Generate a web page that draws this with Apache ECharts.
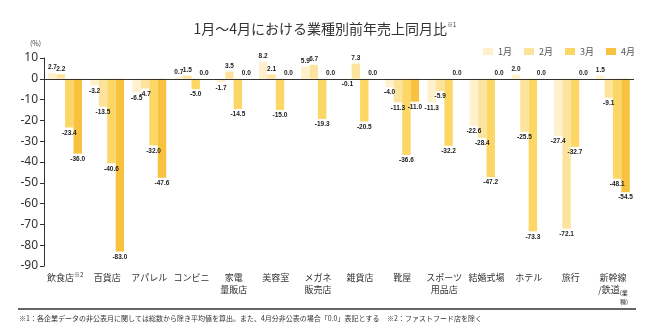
<!DOCTYPE html>
<html><head><meta charset="utf-8">
<script src="https://cdn.jsdelivr.net/npm/echarts@6/dist/echarts.min.js"></script>
<style>html,body{margin:0;padding:0;background:#fff}#c{width:650px;height:328px}</style>
</head><body><div id="c"></div>
<script>
const categories = ['飲食店{sup|※2}','百貨店','アパレル','コンビニ','家電\n量販店','美容室','メガネ\n販売店','雑貨店','靴屋','スポーツ\n用品店','結婚式場','ホテル','旅行','新幹線\n/鉄道{sm|(業}\n{sm2|種)}'];
const seriesNames = ['1月','2月','3月','4月'];
const jan = [2.7,-3.2,-6.5,0.7,-1.7,8.2,5.9,-0.1,-4.0,-11.3,-22.6,2.0,-27.4,1.5];
const feb = [2.2,-13.5,-4.7,1.5,3.5,2.1,6.7,7.3,-11.3,-5.9,-28.4,-25.5,-72.1,-9.1];
const mar = [-23.4,-40.6,-32.0,-5.0,-14.5,-15.0,-19.3,-20.5,-36.6,-32.2,-47.2,-73.3,-32.7,-48.1];
const apr = [-36.0,-83.0,-47.6,0.0,0.0,0.0,0.0,0.0,-11.0,0.0,0.0,0.0,0.0,-54.5];
const colors = ['#FEF1CC','#FDE49E','#FCD766','#F8C13E'];
const yMin = -90, yMax = 10, yStep = 10;

const FONT = "'Noto Sans CJK JP','Noto Sans',sans-serif";
const all = [jan, feb, mar, apr];
const chart = echarts.init(document.getElementById('c'), null, {renderer:'canvas'});
const series = all.map((arr, i) => {
  const s = {
    name: seriesNames[i], type: 'bar',
    barGap: '0%', barCategoryGap: '20%',
    itemStyle: {color: colors[i]},
    label: {show: true, fontSize: 6.5, fontWeight: 'bold', color: '#222', distance: 2,
      fontFamily: "'Liberation Sans',sans-serif",
      formatter: p => p.value.toFixed(1)},
    data: arr.map(v => ({value: v, label: {position: v < 0 ? 'bottom' : 'top'}}))
  };
  if (i === 0) {
    s.markLine = {silent: true, symbol: 'none', label: {show: false},
      lineStyle: {color: '#333', width: 1, type: 'solid'}, data: [{yAxis: 0}]};
  }
  return s;
});
chart.setOption({
  animation: false,
  textStyle: {fontFamily: FONT},
  title: {
    text: '1月～4月における業種別前年売上同月比{sup|※1}',
    left: 'center', top: 17,
    textStyle: {fontSize: 14, fontWeight: 'normal', color: '#333', fontFamily: FONT,
      rich: {sup: {fontSize: 6, verticalAlign: 'top', lineHeight: 8, color: '#333', fontFamily: FONT}}}
  },
  legend: {
    data: seriesNames, right: 10, top: 42, icon: 'rect', itemWidth: 10, itemHeight: 7, itemGap: 12,
    textStyle: {fontSize: 9, color: '#555', fontFamily: FONT}
  },
  grid: {left: 44, right: 16, top: 58, bottom: 62},
  xAxis: {
    type: 'category', data: categories,
    axisLine: {show: false}, axisTick: {show: false},
    axisLabel: {interval: 0, fontSize: 9, color: '#333', lineHeight: 12, margin: 6, fontFamily: FONT,
      rich: {
        sup: {fontSize: 6, verticalAlign: 'top', lineHeight: 8, color: '#333'},
        sm: {fontSize: 6, color: '#333', verticalAlign: 'bottom', lineHeight: 10},
        sm2: {fontSize: 6, color: '#333', padding: [0, 0, 0, 22]}
      }}
  },
  yAxis: {
    type: 'value', min: yMin, max: yMax, interval: yStep,
    axisLine: {show: true, lineStyle: {color: '#333', width: 1}},
    axisTick: {show: true, length: 4, lineStyle: {color: '#333'}},
    splitLine: {show: false},
    axisLabel: {fontSize: 12, color: '#333', margin: 6, fontFamily: "'Noto Sans',sans-serif"}
  },
  graphic: [
    {type: 'text', left: 30, top: 40, style: {text: '(%)', fontSize: 7, fill: '#444', fontFamily: FONT}},
    {type: 'line', shape: {x1: 18, y1: 309, x2: 636, y2: 309}, style: {stroke: '#333', lineWidth: 1.5}},
    {type: 'text', left: 19, top: 315, style: {text: '※1：各企業データの非公表月に関しては総数から除き平均値を算出。また、4月分非公表の場合「0.0」表記とする', fontSize: 7, fill: '#333', fontFamily: FONT}},
    {type: 'text', left: 387, top: 315, style: {text: '※2：ファストフード店を除く', fontSize: 7, fill: '#333', fontFamily: FONT}}
  ],
  series: series
});
</script>
</body></html>
